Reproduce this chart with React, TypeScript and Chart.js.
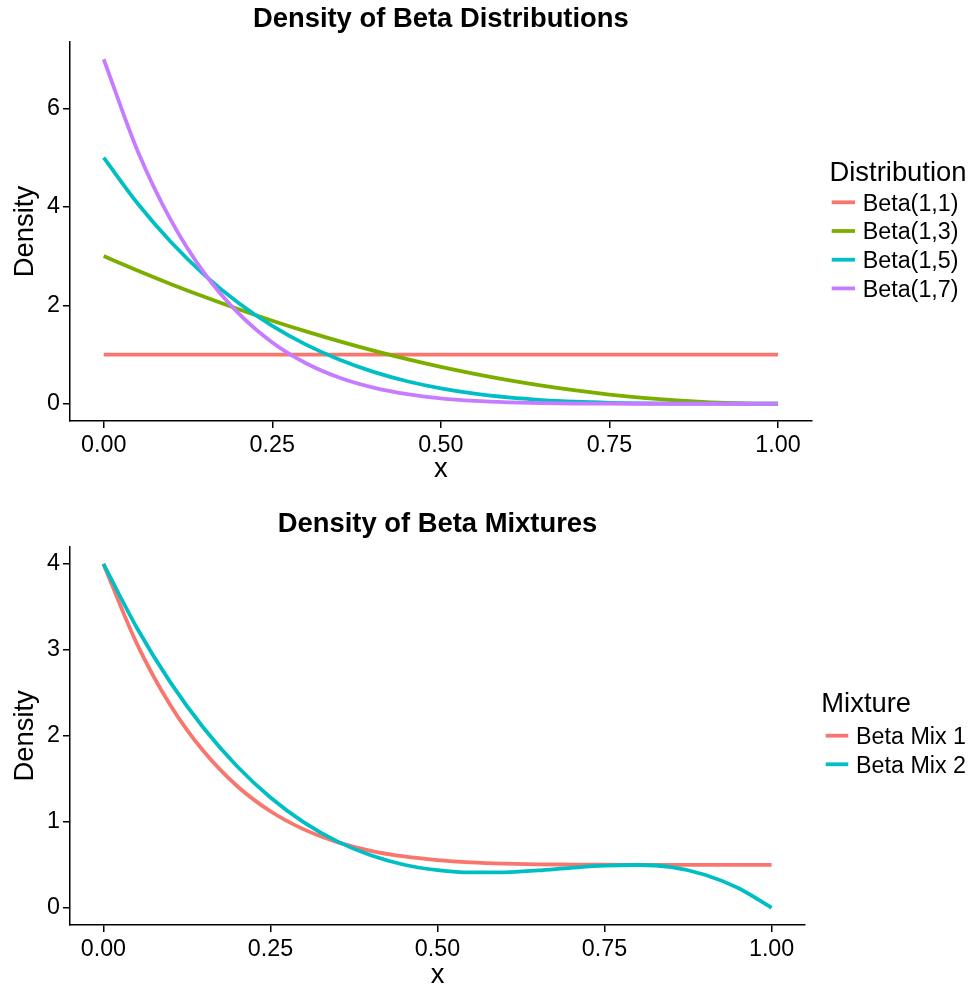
import React, { useEffect, useRef } from "react";
import { Chart, registerables } from "chart.js";

Chart.register(...registerables);

// ---------- data ----------
const xGrid = [0, 0.05, 0.1, 0.15, 0.2, 0.25, 0.3, 0.35, 0.4, 0.45, 0.5, 0.55, 0.6, 0.65, 0.7, 0.75, 0.8, 0.85, 0.9, 0.95, 1];

const beta11 = [1, 1, 1, 1, 1, 1, 1, 1, 1, 1, 1, 1, 1, 1, 1, 1, 1, 1, 1, 1, 1];
const beta13 = [3, 2.708, 2.43, 2.168, 1.92, 1.688, 1.47, 1.268, 1.08, 0.908, 0.75, 0.608, 0.48, 0.368, 0.27, 0.188, 0.12, 0.068, 0.03, 0.008, 0];
const beta15 = [5, 4.073, 3.281, 2.61, 2.048, 1.582, 1.201, 0.893, 0.648, 0.458, 0.313, 0.205, 0.128, 0.075, 0.041, 0.02, 0.008, 0.003, 0.001, 0, 0];
const beta17 = [7, 5.146, 3.72, 2.64, 1.835, 1.246, 0.824, 0.528, 0.327, 0.194, 0.109, 0.058, 0.029, 0.013, 0.005, 0.002, 0.0004, 0, 0, 0, 0];

const mix1 = [4, 3.073, 2.36, 1.82, 1.417, 1.123, 0.912, 0.764, 0.663, 0.597, 0.555, 0.529, 0.514, 0.506, 0.503, 0.501, 0.5, 0.5, 0.5, 0.5, 0.5];
const mix2 = [4, 3.258, 2.625, 2.091, 1.646, 1.283, 0.994, 0.773, 0.611, 0.501, 0.438, 0.411, 0.413, 0.435, 0.465, 0.49, 0.498, 0.472, 0.385, 0.23, 0];

const xTickValues = [0, 0.25, 0.5, 0.75, 1];
const xTickLabels = ["0.00", "0.25", "0.50", "0.75", "1.00"];
const topYTicks = [0, 2, 4, 6];
const bottomYTicks = [0, 1, 2, 3, 4];

const topSeriesNames = ["Beta(1,1)", "Beta(1,3)", "Beta(1,5)", "Beta(1,7)"];
const bottomSeriesNames = ["Beta Mix 1", "Beta Mix 2"];
const topColors = ["#F8766D", "#7CAE00", "#00BFC4", "#C77CFF"];
const bottomColors = ["#F8766D", "#00BFC4"];

const topTitle = "Density of Beta Distributions";
const bottomTitle = "Density of Beta Mixtures";
const xTitle = "x";
const yTitle = "Density";
const topLegendTitle = "Distribution";
const bottomLegendTitle = "Mixture";

// ---------- styling ----------
const FONT = "'Liberation Sans', Arial, Helvetica, sans-serif";
const BIG = 27.4;
const SMALL = 23.3;
const LINE_W = 3.8;

type Layout = {
  canvasTop: number;
  canvasHeight: number;
  padTop: number;
  padRight: number;
  xAxisHeight: number;
  yMin: number;
  yMax: number;
  titleY: number;
  xTitleY: number;
  yTitleX: number;
  legendTitleX: number;
  legendTitleY: number;
  keyX0: number;
  keyX1: number;
  labelX: number;
  keyY0: number;
  keyStep: number;
};

function makeDecor(title: string, legendTitle: string, names: string[], colors: string[], L: Layout) {
  return {
    id: "decor",
    afterDraw(chart: any) {
      const ctx = chart.ctx as CanvasRenderingContext2D;
      const ca = chart.chartArea;
      const cx = (ca.left + ca.right) / 2;
      const cy = (ca.top + ca.bottom) / 2;
      ctx.save();
      ctx.fillStyle = "#000";
      ctx.textBaseline = "alphabetic";
      ctx.textAlign = "center";
      ctx.font = `bold ${BIG}px ${FONT}`;
      ctx.fillText(title, cx, L.titleY);
      ctx.font = `${BIG}px ${FONT}`;
      ctx.fillText(xTitle, cx, L.xTitleY);
      ctx.save();
      ctx.translate(L.yTitleX, cy);
      ctx.rotate(-Math.PI / 2);
      ctx.fillText(yTitle, 0, 0);
      ctx.restore();
      // legend
      ctx.textAlign = "left";
      ctx.fillText(legendTitle, L.legendTitleX, L.legendTitleY);
      ctx.font = `${SMALL}px ${FONT}`;
      names.forEach((name, i) => {
        const y = L.keyY0 + i * L.keyStep;
        ctx.strokeStyle = colors[i];
        ctx.lineWidth = LINE_W;
        ctx.lineCap = "butt";
        ctx.beginPath();
        ctx.moveTo(L.keyX0, y);
        ctx.lineTo(L.keyX1, y);
        ctx.stroke();
        ctx.fillText(name, L.labelX, y + 8.3);
      });
      ctx.restore();
    },
  };
}

function buildConfig(series: number[][], names: string[], colors: string[], yTicks: number[], L: Layout, title: string, legendTitle: string) {
  const n = series.length;
  return {
    type: "line" as const,
    data: {
      datasets: series.map((vals, i) => ({
        label: names[i],
        data: xGrid.map((x, j) => ({ x, y: vals[j] })),
        borderColor: colors[i],
        backgroundColor: colors[i],
        borderWidth: LINE_W,
        pointRadius: 0,
        pointHoverRadius: 0,
        fill: false,
        cubicInterpolationMode: "monotone" as const,
        order: n - 1 - i,
      })),
    },
    options: {
      responsive: false,
      maintainAspectRatio: false,
      animation: false as const,
      devicePixelRatio: 1,
      events: [],
      layout: { padding: { top: L.padTop, right: L.padRight, left: 0, bottom: 0 } },
      plugins: {
        legend: { display: false },
        tooltip: { enabled: false },
        title: { display: false },
      },
      scales: {
        x: {
          type: "linear" as const,
          min: -0.05,
          max: 1.05,
          afterBuildTicks: (axis: any) => {
            axis.ticks = xTickValues.map((v) => ({ value: v }));
          },
          afterFit: (axis: any) => {
            axis.height = L.xAxisHeight;
          },
          border: { display: true, color: "#000", width: 1.5 },
          grid: { display: true, drawOnChartArea: false, drawTicks: true, tickLength: 7, color: "#000", lineWidth: 1.5 },
          ticks: {
            color: "#000",
            font: { family: FONT, size: SMALL },
            padding: 4,
            maxRotation: 0,
            autoSkip: false,
            callback: (v: any) => {
              const k = xTickValues.indexOf(Number(v));
              return k >= 0 ? xTickLabels[k] : "";
            },
          },
        },
        y: {
          type: "linear" as const,
          min: L.yMin,
          max: L.yMax,
          afterBuildTicks: (axis: any) => {
            axis.ticks = yTicks.map((v) => ({ value: v }));
          },
          afterFit: (axis: any) => {
            axis.width = 70;
          },
          border: { display: true, color: "#000", width: 1.5 },
          grid: { display: true, drawOnChartArea: false, drawTicks: true, tickLength: 7, color: "#000", lineWidth: 1.5 },
          ticks: {
            color: "#000",
            font: { family: FONT, size: SMALL },
            padding: 3,
            autoSkip: false,
            callback: (v: any) => String(v),
          },
        },
      },
    },
    plugins: [makeDecor(title, legendTitle, names, colors, L)],
  };
}

const topLayout: Layout = {
  canvasTop: 0,
  canvasHeight: 492,
  padTop: 42,
  padRight: 973 - 811.7,
  xAxisHeight: 71,
  yMin: -0.35,
  yMax: 7.35,
  titleY: 27,
  xTitleY: 476.5,
  yTitleX: 33,
  legendTitleX: 829.5,
  legendTitleY: 181,
  keyX0: 831.7,
  keyX1: 855,
  labelX: 862.7,
  keyY0: 202.3,
  keyStep: 28.7,
};

const bottomLayout: Layout = {
  canvasTop: 492,
  canvasHeight: 495,
  padTop: 546.7 - 492,
  padRight: 973 - 805,
  xAxisHeight: 62,
  yMin: -0.2,
  yMax: 4.2,
  titleY: 532 - 492,
  xTitleY: 982.5 - 492,
  yTitleX: 33,
  legendTitleX: 821.3,
  legendTitleY: 712 - 492,
  keyX0: 825.7,
  keyX1: 848.3,
  labelX: 856,
  keyY0: 735.7 - 492,
  keyStep: 28.6,
};

function ChartCanvas(props: { cfg: any; top: number; height: number }) {
  const ref = useRef<HTMLCanvasElement>(null);
  useEffect(() => {
    if (!ref.current) return;
    const chart = new Chart(ref.current, props.cfg);
    return () => chart.destroy();
  }, []);
  return (
    <canvas
      ref={ref}
      width={973}
      height={props.height}
      style={{ position: "absolute", left: 0, top: props.top, width: 973, height: props.height, display: "block" }}
    />
  );
}

export default function App() {
  const topCfg = buildConfig([beta11, beta13, beta15, beta17], topSeriesNames, topColors, topYTicks, topLayout, topTitle, topLegendTitle);
  const bottomCfg = buildConfig([mix1, mix2], bottomSeriesNames, bottomColors, bottomYTicks, bottomLayout, bottomTitle, bottomLegendTitle);
  return (
    <div style={{ position: "absolute", left: 0, top: 0, width: 973, height: 987, background: "#fff" }}>
      <ChartCanvas cfg={topCfg} top={topLayout.canvasTop} height={topLayout.canvasHeight} />
      <ChartCanvas cfg={bottomCfg} top={bottomLayout.canvasTop} height={bottomLayout.canvasHeight} />
    </div>
  );
}
